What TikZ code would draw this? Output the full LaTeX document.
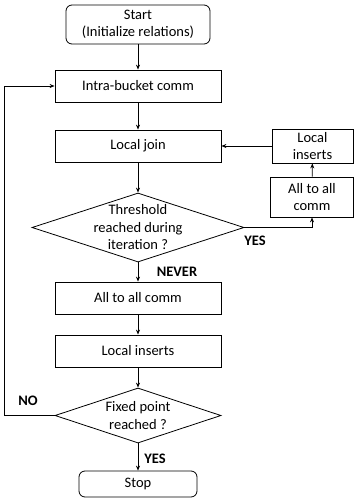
\documentclass[tikz,border=0pt]{standalone}
\usepackage{fontspec}
\setmainfont{Carlito}
\usetikzlibrary{shapes.geometric,arrows.meta}

\begin{document}
\begin{tikzpicture}[x=1pt,y=1pt,line width=0.8pt,
    box/.style={draw,rectangle,minimum width=166,minimum height=32,inner sep=0pt,align=center},
    term/.style={box,rounded corners=6pt},
    test/.style={draw,diamond,shape aspect=3,inner sep=-10pt,align=center},
    lbl/.style={font=\bfseries},
    arr/.style={-{Stealth[length=5pt,width=4pt]}}]
        \useasboundingbox (0,0) rectangle (354,-499);
        \fontsize{14.5}{17.5}\selectfont
        \node [term,minimum width=144,minimum height=39] (start) at (138,-24.5) {Start\\(Initialize relations)};
        \node [box] (intra) at (138,-86) {Intra-bucket comm};
        \node [box] (join) at (138,-146) {Local join};
        \node [test,minimum width=212,minimum height=69] (thr) at (138,-227.5) {Threshold\\reached during\\iteration ?};
        \node [box] (a2a) at (138,-298) {All to all comm};
        \node [box] (ins) at (138,-351) {Local inserts};
        \node [test,minimum width=166,minimum height=55] (fix) at (138,-415.5) {Fixed point\\reached ?};
        \node [term,minimum width=118,minimum height=26] (stop) at (138,-484) {Stop};
        \node [box,minimum width=81,minimum height=34] (rins) at (312.5,-146) {Local\\inserts};
        \node [box,minimum width=83,minimum height=40] (ra2a) at (312,-197) {All to all\\comm};
        \node [lbl] (yes1) at (255,-241) {YES};
        \node [lbl] (never) at (177,-272) {NEVER};
        \node [lbl] (no) at (28,-401) {NO};
        \node [lbl] (yes2) at (155,-459) {YES};
        \draw [arr] (start) -- (intra);
        \draw [arr] (intra) -- (join);
        \draw [arr] (join) -- (thr);
        \draw [arr] (thr) -- (a2a);
        \draw [arr] (a2a) -- (ins);
        \draw [arr] (ins) -- (fix);
        \draw [arr] (fix) -- (stop);
        \draw [arr] (thr.east) -| (ra2a.south);
        \draw [arr] (ra2a) -- (rins);
        \draw [arr] (rins) -- (join);
        \draw [arr] (fix.west) -- ++(-50,0) |- (intra.west);
    \end{tikzpicture}
\end{document}
